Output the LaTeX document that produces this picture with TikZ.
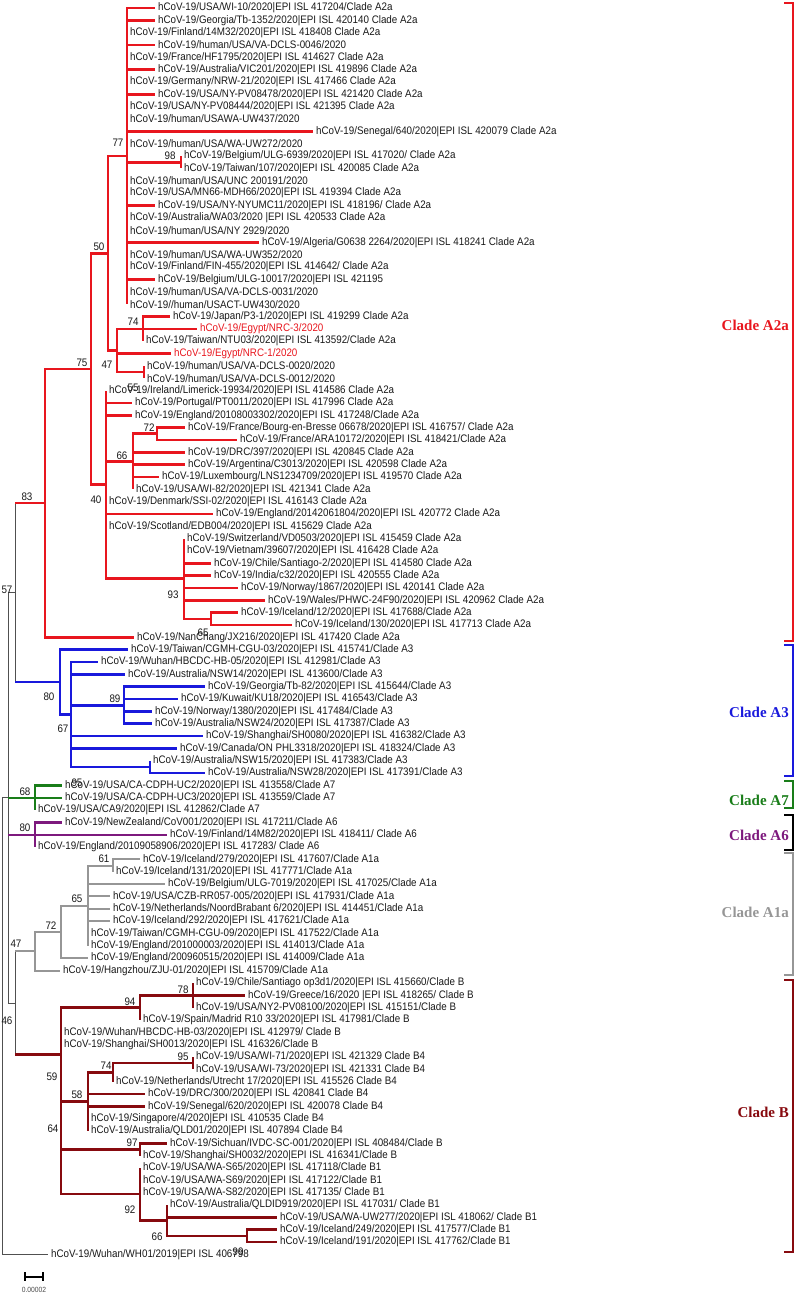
\documentclass[tikz,border=0pt]{standalone}
\usepackage{fontspec}
\setmainfont[FakeStretch=0.9]{Liberation Sans}
\newfontfamily\cladefont{Liberation Serif}
\usepackage{xcolor}
\definecolor{cladered}{RGB}{232,22,30}
\definecolor{cladeblue}{RGB}{25,25,220}
\definecolor{cladegreen}{RGB}{25,125,25}
\definecolor{cladepurple}{RGB}{125,25,125}
\definecolor{cladegray}{RGB}{150,150,150}
\definecolor{cladebrown}{RGB}{135,10,15}
\definecolor{stemgray}{RGB}{80,80,80}
\newcommand{\leaf}[5][]{\node[leaf,#1] (#2) at (#4,{8+(#3-1)*12.34}) {hCoV-19/#5};}

\begin{document}
\begin{tikzpicture}[x=1pt,y=-1pt]
  \tikzstyle{leaf}=[anchor=west,inner xsep=3pt,inner ysep=0pt,text=black!90,font=\fontsize{10.9}{11}\selectfont]
  \tikzstyle{egypt}=[text=cladered]
  \tikzstyle{boot}=[inner sep=0pt,text=black!90,font=\fontsize{10.9}{11}\selectfont]
  \tikzstyle{stem}=[draw=stemgray,line width=0.8pt]
  \tikzstyle{redbr}=[draw=cladered,line width=2.6pt]
  \tikzstyle{bluebr}=[draw=cladeblue,line width=2.6pt]
  \tikzstyle{greenbr}=[draw=cladegreen,line width=2.2pt]
  \tikzstyle{purplebr}=[draw=cladepurple,line width=2.2pt]
  \tikzstyle{graybr}=[draw=cladegray,line width=2pt]
  \tikzstyle{brownbr}=[draw=cladebrown,line width=2.6pt]
  \tikzstyle{bracket}=[line width=1.4pt]
  \tikzstyle{cladelab}=[anchor=east,inner sep=0pt,font=\cladefont\bfseries\fontsize{15}{16}\selectfont]
  \useasboundingbox (0,0) rectangle (803,1295);

  % internal nodes
  \coordinate (root) at (2.5,1026);
  \coordinate (nY) at (8,797.75);
  \coordinate (n57) at (15,592.6);
  \coordinate (n83) at (45,503.15);
  \coordinate (n75) at (91,368.95);
  \coordinate (n50) at (108,253.26);
  \coordinate (n77) at (127,156.08);
  \coordinate (n98) at (181,162.25);
  \coordinate (n47) at (117,350.44);
  \coordinate (n74) at (143,328.84);
  \coordinate (n55) at (144,372.03);
  \coordinate (n40) at (106,484.64);
  \coordinate (n66) at (133,461.5);
  \coordinate (n72) at (157,433.73);
  \coordinate (n93) at (184,578.73);
  \coordinate (n65) at (211,618.83);
  \coordinate (a80) at (60,682.08);
  \coordinate (a67) at (71,714.47);
  \coordinate (a89) at (124,705.21);
  \coordinate (a95) at (150,766.91);
  \coordinate (c68) at (35,797.76);
  \coordinate (d80) at (35,834.78);
  \coordinate (n46) at (15,1002.9);
  \coordinate (e47) at (35,951.24);
  \coordinate (e72) at (61,931.96);
  \coordinate (e65) at (88,905.74);
  \coordinate (e61) at (113,865.63);
  \coordinate (nB) at (61,1054.6);
  \coordinate (b94) at (140,1007.54);
  \coordinate (b78) at (193,995.2);
  \coordinate (b58) at (88,1101.63);
  \coordinate (b74) at (113,1072.33);
  \coordinate (b95) at (193,1063.07);
  \coordinate (b97) at (140,1149.45);
  \coordinate (b92) at (140,1194.18);
  \coordinate (b66) at (167,1220.4);
  \coordinate (b99) at (247,1235.83);

  % leaves
  \leaf{l1}{1}{155}{USA/WI-10/2020|EPI ISL 417204/Clade A2a}
  \leaf{l2}{2}{155}{Georgia/Tb-1352/2020|EPI ISL 420140 Clade A2a}
  \leaf{l3}{3}{127}{Finland/14M32/2020|EPI ISL 418408 Clade A2a}
  \leaf{l4}{4}{155}{human/USA/VA-DCLS-0046/2020}
  \leaf{l5}{5}{127}{France/HF1795/2020|EPI ISL 414627 Clade A2a}
  \leaf{l6}{6}{155}{Australia/VIC201/2020|EPI ISL 419896 Clade A2a}
  \leaf{l7}{7}{127}{Germany/NRW-21/2020|EPI ISL 417466 Clade A2a}
  \leaf{l8}{8}{155}{USA/NY-PV08478/2020|EPI ISL 421420 Clade A2a}
  \leaf{l9}{9}{127}{USA/NY-PV08444/2020|EPI ISL 421395 Clade A2a}
  \leaf{l10}{10}{127}{human/USAWA-UW437/2020}
  \leaf{l11}{11}{313}{Senegal/640/2020|EPI ISL 420079 Clade A2a}
  \leaf{l12}{12}{127}{human/USA/WA-UW272/2020}
  \leaf{l13}{13}{181}{Belgium/ULG-6939/2020|EPI ISL 417020/ Clade A2a}
  \leaf{l14}{14}{181}{Taiwan/107/2020|EPI ISL 420085 Clade A2a}
  \leaf{l15}{15}{127}{human/USA/UNC 200191/2020}
  \leaf{l16}{16}{127}{USA/MN66-MDH66/2020|EPI ISL 419394 Clade A2a}
  \leaf{l17}{17}{155}{USA/NY-NYUMC11/2020|EPI ISL 418196/ Clade A2a}
  \leaf{l18}{18}{127}{Australia/WA03/2020 |EPI ISL 420533 Clade A2a}
  \leaf{l19}{19}{127}{human/USA/NY 2929/2020}
  \leaf{l20}{20}{259}{Algeria/G0638 2264/2020|EPI ISL 418241 Clade A2a}
  \leaf{l21}{21}{127}{human/USA/WA-UW352/2020}
  \leaf{l22}{22}{127}{Finland/FIN-455/2020|EPI ISL 414642/ Clade A2a}
  \leaf{l23}{23}{155}{Belgium/ULG-10017/2020|EPI ISL 421195}
  \leaf{l24}{24}{127}{human/USA/VA-DCLS-0031/2020}
  \leaf{l25}{25}{127}{/human/USACT-UW430/2020}
  \leaf{l26}{26}{170}{Japan/P3-1/2020|EPI ISL 419299 Clade A2a}
  \leaf[egypt]{l27}{27}{197}{Egypt/NRC-3/2020}
  \leaf{l28}{28}{143}{Taiwan/NTU03/2020|EPI ISL 413592/Clade A2a}
  \leaf[egypt]{l29}{29}{171}{Egypt/NRC-1/2020}
  \leaf{l30}{30}{144}{human/USA/VA-DCLS-0020/2020}
  \leaf{l31}{31}{144}{human/USA/VA-DCLS-0012/2020}
  \leaf{l32}{32}{106}{Ireland/Limerick-19934/2020|EPI ISL 414586 Clade A2a}
  \leaf{l33}{33}{132}{Portugal/PT0011/2020|EPI ISL 417996 Clade A2a}
  \leaf{l34}{34}{132}{England/20108003302/2020|EPI ISL 417248/Clade A2a}
  \leaf{l35}{35}{185}{France/Bourg-en-Bresse 06678/2020|EPI ISL 416757/ Clade A2a}
  \leaf{l36}{36}{237}{France/ARA10172/2020|EPI ISL 418421/Clade A2a}
  \leaf{l37}{37}{185}{DRC/397/2020|EPI ISL 420845 Clade A2a}
  \leaf{l38}{38}{185}{Argentina/C3013/2020|EPI ISL 420598 Clade A2a}
  \leaf{l39}{39}{159}{Luxembourg/LNS1234709/2020|EPI ISL 419570 Clade A2a}
  \leaf{l40}{40}{133}{USA/WI-82/2020|EPI ISL 421341 Clade A2a}
  \leaf{l41}{41}{106}{Denmark/SSI-02/2020|EPI ISL 416143 Clade A2a}
  \leaf{l42}{42}{213}{England/20142061804/2020|EPI ISL 420772 Clade A2a}
  \leaf{l43}{43}{106}{Scotland/EDB004/2020|EPI ISL 415629 Clade A2a}
  \leaf{l44}{44}{184}{Switzerland/VD0503/2020|EPI ISL 415459 Clade A2a}
  \leaf{l45}{45}{184}{Vietnam/39607/2020|EPI ISL 416428 Clade A2a}
  \leaf{l46}{46}{211}{Chile/Santiago-2/2020|EPI ISL 414580 Clade A2a}
  \leaf{l47}{47}{211}{India/c32/2020|EPI ISL 420555 Clade A2a}
  \leaf{l48}{48}{238}{Norway/1867/2020|EPI ISL 420141 Clade A2a}
  \leaf{l49}{49}{265}{Wales/PHWC-24F90/2020|EPI ISL 420962 Clade A2a}
  \leaf{l50}{50}{238}{Iceland/12/2020|EPI ISL 417688/Clade A2a}
  \leaf{l51}{51}{292}{Iceland/130/2020|EPI ISL 417713 Clade A2a}
  \leaf{l52}{52}{134}{NanChang/JX216/2020|EPI ISL 417420 Clade A2a}
  \leaf{l53}{53}{128}{Taiwan/CGMH-CGU-03/2020|EPI ISL 415741/Clade A3}
  \leaf{l54}{54}{98}{Wuhan/HBCDC-HB-05/2020|EPI ISL 412981/Clade A3}
  \leaf{l55}{55}{125}{Australia/NSW14/2020|EPI ISL 413600/Clade A3}
  \leaf{l56}{56}{205}{Georgia/Tb-82/2020|EPI ISL 415644/Clade A3}
  \leaf{l57}{57}{178}{Kuwait/KU18/2020|EPI ISL 416543/Clade A3}
  \leaf{l58}{58}{152}{Norway/1380/2020|EPI ISL 417484/Clade A3}
  \leaf{l59}{59}{152}{Australia/NSW24/2020|EPI ISL 417387/Clade A3}
  \leaf{l60}{60}{203}{Shanghai/SH0080/2020|EPI ISL 416382/Clade A3}
  \leaf{l61}{61}{177}{Canada/ON PHL3318/2020|EPI ISL 418324/Clade A3}
  \leaf{l62}{62}{150}{Australia/NSW15/2020|EPI ISL 417383/Clade A3}
  \leaf{l63}{63}{205}{Australia/NSW28/2020|EPI ISL 417391/Clade A3}
  \leaf{l64}{64}{62}{USA/CA-CDPH-UC2/2020|EPI ISL 413558/Clade A7}
  \leaf{l65}{65}{62}{USA/CA-CDPH-UC3/2020|EPI ISL 413559/Clade A7}
  \leaf{l66}{66}{35}{USA/CA9/2020|EPI ISL 412862/Clade A7}
  \leaf{l67}{67}{62}{NewZealand/CoV001/2020|EPI ISL 417211/Clade A6}
  \leaf{l68}{68}{167}{Finland/14M82/2020|EPI ISL 418411/ Clade A6}
  \leaf{l69}{69}{35}{England/20109058906/2020|EPI ISL 417283/ Clade A6}
  \leaf{l70}{70}{140}{Iceland/279/2020|EPI ISL 417607/Clade A1a}
  \leaf{l71}{71}{113}{Iceland/131/2020|EPI ISL 417771/Clade A1a}
  \leaf{l72}{72}{165}{Belgium/ULG-7019/2020|EPI ISL 417025/Clade A1a}
  \leaf{l73}{73}{110}{USA/CZB-RR057-005/2020|EPI ISL 417931/Clade A1a}
  \leaf{l74}{74}{110}{Netherlands/NoordBrabant 6/2020|EPI ISL 414451/Clade A1a}
  \leaf{l75}{75}{110}{Iceland/292/2020|EPI ISL 417621/Clade A1a}
  \leaf{l76}{76}{88}{Taiwan/CGMH-CGU-09/2020|EPI ISL 417522/Clade A1a}
  \leaf{l77}{77}{88}{England/201000003/2020|EPI ISL 414013/Clade A1a}
  \leaf{l78}{78}{88}{England/200960515/2020|EPI ISL 414009/Clade A1a}
  \leaf{l79}{79}{60}{Hangzhou/ZJU-01/2020|EPI ISL 415709/Clade A1a}
  \leaf{l80}{80}{193}{Chile/Santiago op3d1/2020|EPI ISL 415660/Clade B}
  \leaf{l81}{81}{245}{Greece/16/2020 |EPI ISL 418265/ Clade B}
  \leaf{l82}{82}{193}{USA/NY2-PV08100/2020|EPI ISL 415151/Clade B}
  \leaf{l83}{83}{140}{Spain/Madrid R10 33/2020|EPI ISL 417981/Clade B}
  \leaf{l84}{84}{61}{Wuhan/HBCDC-HB-03/2020|EPI ISL 412979/ Clade B}
  \leaf{l85}{85}{61}{Shanghai/SH0013/2020|EPI ISL 416326/Clade B}
  \leaf{l86}{86}{193}{USA/WI-71/2020|EPI ISL 421329 Clade B4}
  \leaf{l87}{87}{193}{USA/WI-73/2020|EPI ISL 421331 Clade B4}
  \leaf{l88}{88}{113}{Netherlands/Utrecht 17/2020|EPI ISL 415526 Clade B4}
  \leaf{l89}{89}{145}{DRC/300/2020|EPI ISL 420841 Clade B4}
  \leaf{l90}{90}{145}{Senegal/620/2020|EPI ISL 420078 Clade B4}
  \leaf{l91}{91}{88}{Singapore/4/2020|EPI ISL 410535 Clade B4}
  \leaf{l92}{92}{88}{Australia/QLD01/2020|EPI ISL 407894 Clade B4}
  \leaf{l93}{93}{167}{Sichuan/IVDC-SC-001/2020|EPI ISL 408484/Clade B}
  \leaf{l94}{94}{140}{Shanghai/SH0032/2020|EPI ISL 416341/Clade B}
  \leaf{l95}{95}{140}{USA/WA-S65/2020|EPI ISL 417118/Clade B1}
  \leaf{l96}{96}{140}{USA/WA-S69/2020|EPI ISL 417122/Clade B1}
  \leaf{l97}{97}{140}{USA/WA-S82/2020|EPI ISL 417135/ Clade B1}
  \leaf{l98}{98}{167}{Australia/QLDID919/2020|EPI ISL 417031/ Clade B1}
  \leaf{l99}{99}{277}{USA/WA-UW277/2020|EPI ISL 418062/ Clade B1}
  \leaf{l100}{100}{277}{Iceland/249/2020|EPI ISL 417577/Clade B1}
  \leaf{l101}{101}{277}{Iceland/191/2020|EPI ISL 417762/Clade B1}
  \leaf{l102}{102}{48}{Wuhan/WH01/2019|EPI ISL 406798}

  % clade A2a
  \draw[redbr] (n77) |- (l1) (n77) |- (l2) (n77) |- (l3) (n77) |- (l4) (n77) |- (l5)
    (n77) |- (l6) (n77) |- (l7) (n77) |- (l8) (n77) |- (l9) (n77) |- (l10) (n77) |- (l11)
    (n77) |- (l12) (n77) |- (n98) (n77) |- (l15) (n77) |- (l16) (n77) |- (l17) (n77) |- (l18)
    (n77) |- (l19) (n77) |- (l20) (n77) |- (l21) (n77) |- (l22) (n77) |- (l23) (n77) |- (l24)
    (n77) |- (l25);
  \draw[redbr] (n98) |- (l13) (n98) |- (l14);
  \draw[redbr] (n50) |- (n77) (n50) |- (n47);
  \draw[redbr] (n47) |- (n74) (n47) |- (l29) (n47) |- (n55);
  \draw[redbr] (n74) |- (l26) (n74) |- (l27) (n74) |- (l28);
  \draw[redbr] (n55) |- (l30) (n55) |- (l31);
  \draw[redbr] (n75) |- (n50) (n75) |- (n40);
  \draw[redbr] (n40) |- (l32) (n40) |- (l33) (n40) |- (l34) (n40) |- (n66) (n40) |- (l41)
    (n40) |- (l42) (n40) |- (l43) (n40) |- (n93);
  \draw[redbr] (n66) |- (n72) (n66) |- (l37) (n66) |- (l38) (n66) |- (l39) (n66) |- (l40);
  \draw[redbr] (n72) |- (l35) (n72) |- (l36);
  \draw[redbr] (n93) |- (l44) (n93) |- (l45) (n93) |- (l46) (n93) |- (l47) (n93) |- (l48)
    (n93) |- (l49) (n93) |- (n65);
  \draw[redbr] (n65) |- (l50) (n65) |- (l51);
  \draw[redbr] (n83) |- (n75) (n83) |- (l52);

  % clade A3
  \draw[bluebr] (a80) |- (l53) (a80) |- (a67);
  \draw[bluebr] (a67) |- (l54) (a67) |- (l55) (a67) |- (a89) (a67) |- (l60) (a67) |- (l61)
    (a67) |- (a95);
  \draw[bluebr] (a89) |- (l56) (a89) |- (l57) (a89) |- (l58) (a89) |- (l59);
  \draw[bluebr] (a95) |- (l62) (a95) |- (l63);

  % clades A7, A6
  \draw[greenbr] (c68) |- (l64) (c68) |- (l65) (c68) |- (l66);
  \draw[purplebr] (d80) |- (l67) (d80) |- (l68) (d80) |- (l69);

  % clade A1a
  \draw[graybr] (e47) |- (e72) (e47) |- (l79);
  \draw[graybr] (e72) |- (e65) (e72) |- (l78);
  \draw[graybr] (e65) |- (e61) (e65) |- (l72) (e65) |- (l73) (e65) |- (l74) (e65) |- (l75)
    (e65) |- (l76) (e65) |- (l77);
  \draw[graybr] (e61) |- (l70) (e61) |- (l71);

  % clade B
  \draw[brownbr] (nB) |- (b94) (nB) |- (l84) (nB) |- (l85) (nB) |- (b58) (nB) |- (b97)
    (nB) |- (b92);
  \draw[brownbr] (b94) |- (b78) (b94) |- (l83);
  \draw[brownbr] (b78) |- (l80) (b78) |- (l81) (b78) |- (l82);
  \draw[brownbr] (b58) |- (b74) (b58) |- (l89) (b58) |- (l90) (b58) |- (l91) (b58) |- (l92);
  \draw[brownbr] (b74) |- (b95) (b74) |- (l88);
  \draw[brownbr] (b95) |- (l86) (b95) |- (l87);
  \draw[brownbr] (b97) |- (l93) (b97) |- (l94);
  \draw[brownbr] (b92) |- (l95) (b92) |- (l96) (b92) |- (l97) (b92) |- (b66);
  \draw[brownbr] (b66) |- (l98) (b66) |- (l99) (b66) |- (b99);
  \draw[brownbr] (b99) |- (l100) (b99) |- (l101);

  % backbone
  \draw[stem] (n57 |- n83) -- (n57 |- a80);
  \draw[redbr] (n57 |- n83) -- (n83);
  \draw[bluebr] (n57 |- a80) -- (a80);
  \draw[stem] (nY |- n57) -- (nY |- n46) (nY |- n57) -- (n57) (nY |- n46) -- (n46);
  \draw[greenbr] (nY |- c68) -- (c68);
  \draw[purplebr] (nY |- d80) -- (d80);
  \draw[stem] (n46 |- e47) -- (n46 |- nB);
  \draw[graybr] (n46 |- e47) -- (e47);
  \draw[brownbr] (n46 |- nB) -- (nB);
  \draw[stem] (root) |- (nY) (root) |- (l102);

  % bootstrap values
  \node[boot] (b77) at (118,143) {77};
  \node[boot] (b98) at (170,156) {98};
  \node[boot] (b50) at (99,247) {50};
  \node[boot] (b74) at (133,322) {74};
  \node[boot] (b47) at (107,365) {47};
  \node[boot] (b75) at (82,363) {75};
  \node[boot] (b55) at (133,388) {55};
  \node[boot] (b72) at (149,428) {72};
  \node[boot] (b66) at (122,456) {66};
  \node[boot] (b83) at (27,497) {83};
  \node[boot] (b40) at (96,500) {40};
  \node[boot] (b93) at (173,595) {93};
  \node[boot] (b65) at (203,633) {65};
  \node[boot] (b57) at (7,590) {57};
  \node[boot] (b80) at (49,697) {80};
  \node[boot] (b89) at (115,699) {89};
  \node[boot] (b67) at (63,729) {67};
  \node[boot] (b95) at (77,783) {95};
  \node[boot] (b68) at (25,792) {68};
  \node[boot] (b80b) at (25,828) {80};
  \node[boot] (b61) at (104,859) {61};
  \node[boot] (b65b) at (77,899) {65};
  \node[boot] (b72b) at (51,926) {72};
  \node[boot] (b47b) at (16,944) {47};
  \node[boot] (b78) at (183,990) {78};
  \node[boot] (b94) at (130,1002) {94};
  \node[boot] (b46) at (7,1021) {46};
  \node[boot] (b95b) at (183,1057) {95};
  \node[boot] (b74b) at (106,1066) {74};
  \node[boot] (b59) at (52,1077) {59};
  \node[boot] (b58) at (77,1095) {58};
  \node[boot] (b64) at (53,1129) {64};
  \node[boot] (b97) at (132,1143) {97};
  \node[boot] (b92) at (130,1210) {92};
  \node[boot] (b66b) at (157,1237) {66};
  \node[boot] (b99) at (238,1252) {99};

  % clade brackets
  \draw[bracket,cladered] (784,3) -- (793,3) -- (793,641) -- (784,641);
  \draw[bracket,cladeblue] (784,645) -- (793,645) -- (793,776) -- (784,776);
  \draw[bracket,cladegreen] (784,781) -- (793,781) -- (793,808) -- (784,808);
  \draw[bracket,black] (784,815) -- (793,815) -- (793,850) -- (784,850);
  \draw[bracket,cladegray] (784,853) -- (793,853) -- (793,975) -- (784,975);
  \draw[bracket,cladebrown] (784,980) -- (793,980) -- (793,1252) -- (784,1252);
  \node[cladelab,text=cladered] (kA2a) at (789,325) {Clade A2a};
  \node[cladelab,text=cladeblue] (kA3) at (789,712) {Clade A3};
  \node[cladelab,text=cladegreen] (kA7) at (789,800) {Clade A7};
  \node[cladelab,text=cladepurple] (kA6) at (789,835) {Clade A6};
  \node[cladelab,text=cladegray] (kA1a) at (789,912) {Clade A1a};
  \node[cladelab,text=cladebrown] (kB) at (789,1112) {Clade B};

  % scale bar
  \draw[line width=1.5pt] (25,1272) -- (25,1281) (25,1277) -- (43,1277) (43,1272) -- (43,1281);
  \node[font=\fontsize{7.5}{8}\selectfont,text=black!70] (scale) at (34,1290) {0.00002};
\end{tikzpicture}
\end{document}
